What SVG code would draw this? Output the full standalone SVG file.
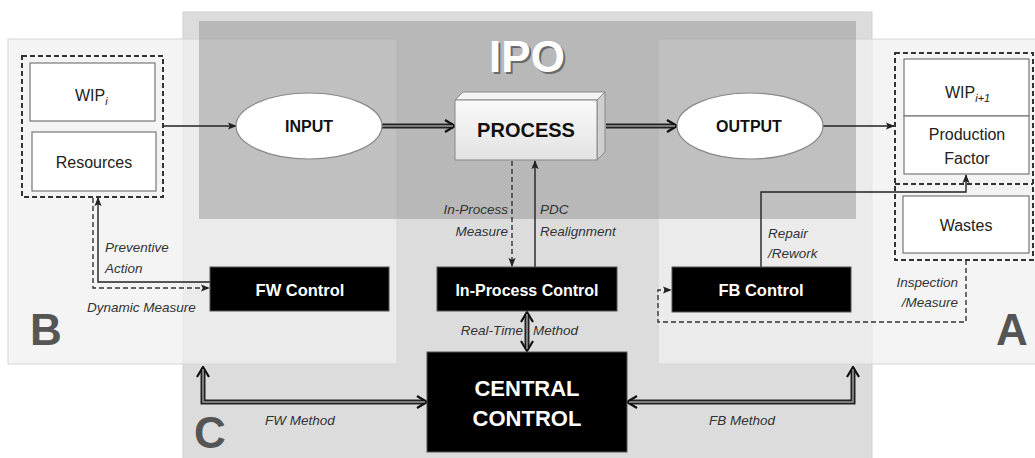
<svg xmlns="http://www.w3.org/2000/svg" width="1035" height="458" viewBox="0 0 1035 458">
<defs>
<style>
.lbl{font-family:"Liberation Sans",Arial,sans-serif;font-style:italic;font-size:13.5px;fill:#333}
.node{font-family:"Liberation Sans",Arial,sans-serif;font-size:16px;fill:#222;text-anchor:middle}
.bold{font-weight:bold;fill:#111}
.wt{font-family:"Liberation Sans",Arial,sans-serif;font-weight:bold;fill:#fff;text-anchor:middle}
.big{font-family:"Liberation Sans",Arial,sans-serif;font-weight:bold;font-size:44px;fill:#555}
.box{fill:#fff;stroke:#777;stroke-width:1.2}
.blk{fill:#000;stroke:#555;stroke-width:1}
.dbox{fill:none;stroke:#333;stroke-width:2;stroke-dasharray:5 3}
.ln{fill:none;stroke:#222;stroke-width:1.4}
.dl{fill:none;stroke:#333;stroke-width:1.4;stroke-dasharray:5 3}
.dbl{fill:none;stroke:#222;stroke-width:5}
.dbi{fill:none;stroke:#9a9a9a;stroke-width:1.5}
</style>
<marker id="tri" viewBox="0 0 10 10" refX="9" refY="5" markerWidth="9" markerHeight="9" markerUnits="userSpaceOnUse" orient="auto-start-reverse"><path d="M0,1 L10,5 L0,9 L2,5 z" fill="#222"/></marker>
<marker id="chev" viewBox="0 0 12 14" refX="9" refY="7" markerWidth="12" markerHeight="14" markerUnits="userSpaceOnUse" orient="auto-start-reverse"><path d="M1,1 L11,7 L1,13" fill="none" stroke="#111" stroke-width="2.2"/></marker>
<linearGradient id="pg" x1="0" y1="0" x2="0" y2="1"><stop offset="0" stop-color="#fafafa"/><stop offset="1" stop-color="#e2e2e2"/></linearGradient>
</defs>

<g id="regions">
<rect id="regionC" x="183" y="12" width="689" height="450" fill="#dcdcdc" stroke="#cfcfcf" stroke-width="1"/>
<rect id="regionB" x="8" y="39" width="389" height="325" fill="#f0f0f0" fill-opacity="0.74" stroke="#d6d6d6" stroke-width="1"/>
<rect id="regionA" x="658" y="39" width="380" height="325" fill="#f0f0f0" fill-opacity="0.74" stroke="#d6d6d6" stroke-width="1"/>
<rect id="regionIPO" x="199" y="21" width="657" height="198" fill="#8c8c8c" fill-opacity="0.45"/>
<text x="529" y="74" class="big" font-size="45" text-anchor="middle" style="fill:#6a6a6a">IPO</text>
<text x="527" y="72" class="big" font-size="45" text-anchor="middle" style="fill:#fff">IPO</text>
<text x="30" y="345" class="big">B</text>
<text x="194" y="448" class="big">C</text>
<text x="996" y="345" class="big">A</text>
</g>

<g id="connectors">
<path class="dbl" d="M382,126 L453,126" marker-end="url(#chev)"/>
<path class="dbi" d="M382,126 L453,126"/>
<path class="dbl" d="M606,126 L675,126" marker-end="url(#chev)"/>
<path class="dbi" d="M606,126 L675,126"/>
<path class="dbl" d="M527,314 L527,349" marker-start="url(#chev)" marker-end="url(#chev)"/>
<path class="dbi" d="M527,314 L527,349"/>
<path class="dbl" d="M203,369 L203,402 L425,402" marker-start="url(#chev)" marker-end="url(#chev)"/>
<path class="dbi" d="M203,369 L203,402 L425,402"/>
<path class="dbl" d="M629,402 L853,402 L853,369" marker-start="url(#chev)" marker-end="url(#chev)"/>
<path class="dbi" d="M629,402 L853,402 L853,369"/>
<path class="ln" d="M163,126 L236,126" marker-end="url(#tri)"/>
<path class="ln" d="M823,126 L894,126" marker-end="url(#tri)"/>
<path class="ln" d="M210,282 L98,282 L98,198" marker-end="url(#tri)"/>
<path class="dl" d="M93,198 L93,288 L209,288" marker-end="url(#tri)"/>
<path class="dl" d="M512,161 L512,266" marker-end="url(#tri)"/>
<path class="ln" d="M535,267 L535,161" marker-end="url(#tri)"/>
<path class="ln" d="M761,267 L761,192 L966,192 L966,175" marker-end="url(#tri)"/>
<path class="dl" d="M966,260 L966,322 L658,322 L658,290 L671,290" marker-end="url(#tri)"/>
<text class="lbl" x="105" y="252">Preventive</text>
<text class="lbl" x="105" y="273">Action</text>
<text class="lbl" x="87" y="312">Dynamic Measure</text>
<text class="lbl" x="508" y="214" text-anchor="end">In-Process</text>
<text class="lbl" x="508" y="236" text-anchor="end">Measure</text>
<text class="lbl" x="540" y="214">PDC</text>
<text class="lbl" x="540" y="236">Realignment</text>
<text class="lbl" y="335"><tspan x="523" text-anchor="end">Real-Time</tspan><tspan x="533" text-anchor="start">Method</tspan></text>
<text class="lbl" x="768" y="238">Repair</text>
<text class="lbl" x="768" y="258">/Rework</text>
<text class="lbl" x="958" y="287" text-anchor="end">Inspection</text>
<text class="lbl" x="958" y="307" text-anchor="end">/Measure</text>
<text class="lbl" x="300" y="425" text-anchor="middle">FW Method</text>
<text class="lbl" x="742" y="425" text-anchor="middle">FB Method</text>
</g>

<g id="wip-i">
<rect class="dbox" x="22" y="56" width="141" height="141"/>
<rect class="box" x="30" y="63" width="125" height="58"/>
<text class="node" x="75" y="101" style="text-anchor:start">WIP<tspan font-style="italic" font-size="11" dy="4">i</tspan></text>
<rect class="box" x="32" y="132" width="124" height="59"/>
<text class="node" x="94" y="168">Resources</text>
</g>

<g id="input">
<ellipse cx="309" cy="126" rx="73" ry="33" fill="#fff" stroke="#888" stroke-width="1.2"/>
<text class="node bold" x="309" y="132">INPUT</text>
</g>

<g id="process">
<polygon points="455,100 463,92 605,92 597,100" fill="#f4f4f4" stroke="#888" stroke-width="1"/>
<polygon points="597,100 605,92 605,152 597,160" fill="#cfcfcf" stroke="#888" stroke-width="1"/>
<rect x="455" y="100" width="142" height="60" fill="url(#pg)" stroke="#888" stroke-width="1"/>
<text class="node bold" x="526" y="137" style="font-size:20px">PROCESS</text>
</g>

<g id="output">
<ellipse cx="750" cy="126" rx="73" ry="33" fill="#fff" stroke="#888" stroke-width="1.2"/>
<text class="node bold" x="749" y="132">OUTPUT</text>
</g>

<g id="wip-next">
<rect class="dbox" x="895" y="53" width="138" height="207"/>
<line class="dbox" x1="895" y1="184" x2="1033" y2="184"/>
<rect class="box" x="904" y="59" width="125" height="57"/>
<text class="node" x="945" y="98" style="text-anchor:start">WIP<tspan font-style="italic" font-size="11" dy="4">i+1</tspan></text>
<rect class="box" x="904" y="116" width="125" height="58"/>
<text class="node" x="967" y="140">Production</text>
<text class="node" x="967" y="164">Factor</text>
<rect class="box" x="903" y="196" width="126" height="57"/>
<text class="node" x="966" y="231">Wastes</text>
</g>

<g id="fw-control">
<rect class="blk" x="210" y="267" width="179" height="44"/>
<text class="wt" x="300" y="296" font-size="16.5">FW Control</text>
</g>

<g id="in-process-control">
<rect class="blk" x="437" y="267" width="180" height="44"/>
<text class="wt" x="527" y="296" font-size="16">In-Process Control</text>
</g>

<g id="fb-control">
<rect class="blk" x="672" y="267" width="179" height="45"/>
<text class="wt" x="761" y="296" font-size="16.5">FB Control</text>
</g>

<g id="central-control">
<rect class="blk" x="427" y="352" width="200" height="100"/>
<text class="wt" x="527" y="396" font-size="22">CENTRAL</text>
<text class="wt" x="527" y="426" font-size="22">CONTROL</text>
</g>
</svg>
